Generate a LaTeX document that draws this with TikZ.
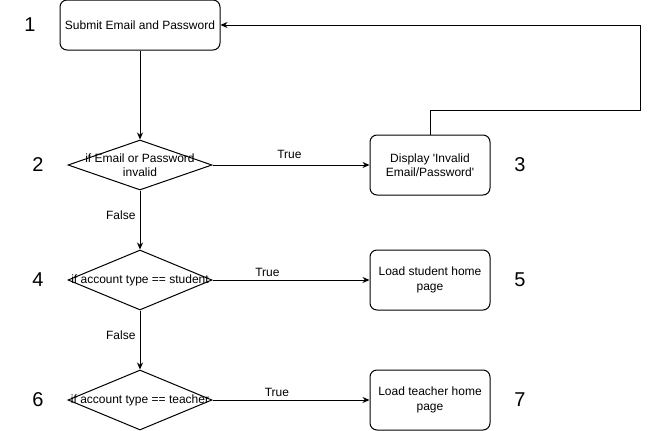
\documentclass[tikz,border=0pt]{standalone}
\usepackage{fontspec}
\setmainfont{Liberation Sans}
\usetikzlibrary{shapes.geometric,arrows.meta}
\begin{document}
\begin{tikzpicture}[x=1pt,y=-1pt,
  every node/.style={font=\fontsize{12}{14.5}\selectfont},
  procbox/.style={draw,line width=1pt,rounded corners=7pt,minimum width=#1,align=center,inner sep=0pt},
  dia/.style={draw,line width=1pt,diamond,minimum width=144pt,minimum height=#1,inner sep=0pt},
  numlbl/.style={font=\fontsize{20}{24}\selectfont},
  conn/.style={line width=1pt,-{Stealth[length=7pt,width=6pt]}},
  edgelbl/.style={font=\fontsize{12}{14}\selectfont,inner sep=0pt}]
\useasboundingbox (0,0) rectangle (649,431);
% nodes
\node[procbox=160pt,minimum height=50pt] (b1) at (140,25) {Submit Email and Password};
\node[dia=50pt,label={[align=center,font=\fontsize{12}{14.5}\selectfont]center:if Email or Password\\invalid}] (d2) at (140,165) {};
\node[procbox=120pt,minimum height=60pt] (b3) at (430,165) {Display \textquotesingle Invalid\\Email/Password\textquotesingle};
\node[dia=60pt,label={center:if account type == student}] (d4) at (140,280) {};
\node[procbox=120pt,minimum height=60pt] (b5) at (430,280) {Load student home\\page};
\node[dia=60pt,label={center:if account type == teacher}] (d6) at (140,400) {};
\node[procbox=120pt,minimum height=60pt] (b7) at (430,400) {Load teacher home\\page};
% numbers
\node[numlbl] (n1) at (30,25) {1};
\node[numlbl] (n2) at (38,165) {2};
\node[numlbl] (n3) at (520,165) {3};
\node[numlbl] (n4) at (38,280) {4};
\node[numlbl] (n5) at (520,280) {5};
\node[numlbl] (n6) at (38,400) {6};
\node[numlbl] (n7) at (520,400) {7};
% connectors
\draw[conn] (b1.south) -- (d2.north);
\draw[conn] (d2.east) -- (b3.west) node[edgelbl,pos=0.49,above=6pt] (t1) {True};
\draw[conn] (d2.south) -- (d4.north) node[edgelbl,pos=0.42,left=4pt] (f1) {False};
\draw[conn] (d4.east) -- (b5.west) node[edgelbl,pos=0.35,above=3pt] (t2) {True};
\draw[conn] (d4.south) -- (d6.north) node[edgelbl,pos=0.42,left=4pt] (f2) {False};
\draw[conn] (d6.east) -- (b7.west) node[edgelbl,pos=0.41,above=3pt] (t3) {True};
\coordinate (c1) at (430,110);
\coordinate (c2) at (640,110);
\coordinate (c3) at (640,25);
\draw[conn] (b3.north) -- (c1) -- (c2) -- (c3) -- (b1.east);
\end{tikzpicture}
\end{document}
